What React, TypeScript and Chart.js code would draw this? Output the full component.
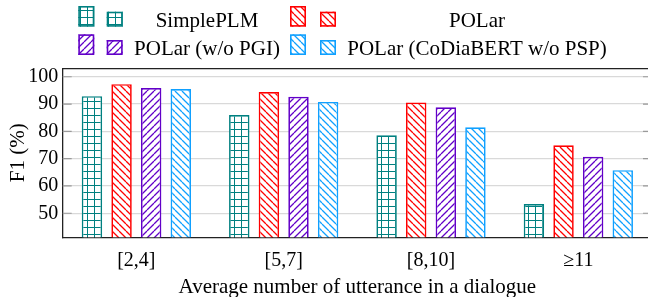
import React, { useEffect, useRef } from 'react';
import { Chart, registerables } from 'chart.js';

Chart.register(...registerables);

// ---- data ----
const categories = ['[2,4]', '[5,7]', '[8,10]', '≥11'];
const seriesNames = ['SimplePLM', 'POLar', 'POLar (w/o PGI)', 'POLar (CoDiaBERT w/o PSP)'];
const simplePLM = [92.9, 86.0, 78.6, 53.4];
const polar = [97.3, 94.4, 90.6, 74.9];
const polarNoPGI = [95.9, 92.7, 88.8, 70.7];
const polarCoDia = [95.5, 90.8, 81.5, 65.8];
const yTicks = [50, 60, 70, 80, 90, 100];
const yMin = 41.2;
const yMax = 103.1;
const xTitle = 'Average number of utterance in a dialogue';
const yTitle = 'F1 (%)';

// ---- styles ----
const colors = ['#008080', '#ff0000', '#6200c8', '#0fa0ff'];
const patterns = ['grid', 'nw', 'ne', 'nw'];
const FONT = '"Liberation Serif", "Times New Roman", serif';

function makePattern(kind: string, color: string) {
  const s = 7;
  const c = document.createElement('canvas');
  c.width = s;
  c.height = s;
  const g = c.getContext('2d')!;
  g.fillStyle = '#ffffff';
  g.fillRect(0, 0, s, s);
  g.strokeStyle = color;
  g.lineWidth = kind === 'grid' ? 1 : 1.3;
  g.beginPath();
  if (kind === 'grid') {
    g.moveTo(0, 3.5);
    g.lineTo(s, 3.5);
    g.moveTo(3.5, 0);
    g.lineTo(3.5, s);
  } else if (kind === 'nw') {
    for (const k of [-1, 0, 1]) {
      g.moveTo(k * s, 0);
      g.lineTo(k * s + s, s);
    }
  } else {
    for (const k of [-1, 0, 1]) {
      g.moveTo(k * s, s);
      g.lineTo(k * s + s, 0);
    }
  }
  g.stroke();
  return g.createPattern(c, 'repeat')!;
}

export default function App() {
  const ref = useRef<HTMLCanvasElement>(null);

  useEffect(() => {
    const fills = colors.map((c, i) => makePattern(patterns[i], c));
    const seriesValues = [simplePLM, polar, polarNoPGI, polarCoDia];

    const legendPlugin = {
      id: 'customLegend',
      afterDraw(chart: any) {
        const ctx = chart.ctx as CanvasRenderingContext2D;
        const colIcon1 = [78.3, 290];
        const colIcon2 = [106.7, 320];
        const colText = [207, 477];
        const baselines = [26.7, 55];
        ctx.save();
        seriesNames.forEach((name, i) => {
          const col = i % 2;
          const row = Math.floor(i / 2);
          const b = baselines[row];
          const drawIcon = (x: number, y: number, w: number, h: number) => {
            ctx.fillStyle = fills[i];
            ctx.fillRect(x, y, w, h);
            ctx.strokeStyle = colors[i];
            ctx.lineWidth = 1.6;
            ctx.strokeRect(x + 0.8, y + 0.8, w - 1.6, h - 1.6);
          };
          drawIcon(colIcon1[col], b - 20.7, 16, 20.7);
          drawIcon(colIcon2[col], b - 15, 16, 15);
          ctx.fillStyle = '#000';
          ctx.font = `21px ${FONT}`;
          ctx.textAlign = 'center';
          ctx.textBaseline = 'alphabetic';
          ctx.fillText(name, colText[col], b);
        });
        ctx.restore();
      },
    };

    const innerTicks = {
      id: 'innerTicks',
      afterDatasetsDraw(chart: any) {
        const { ctx, chartArea } = chart;
        const y = chart.scales.y;
        ctx.save();
        ctx.strokeStyle = '#9a9a9a';
        ctx.lineWidth = 1.2;
        ctx.beginPath();
        yTicks.forEach((v) => {
          const py = y.getPixelForValue(v);
          ctx.moveTo(chartArea.left, py);
          ctx.lineTo(chartArea.left + 9, py);
          ctx.moveTo(chartArea.right - 9, py);
          ctx.lineTo(chartArea.right, py);
        });
        ctx.stroke();
        ctx.restore();
      },
    };

    const chart = new Chart(ref.current!, {
      type: 'bar',
      data: {
        labels: categories,
        datasets: seriesNames.map((name, i) => ({
          label: name,
          data: seriesValues[i],
          backgroundColor: fills[i],
          borderColor: colors[i],
          borderWidth: 1.7,
          borderSkipped: false,
          categoryPercentage: 0.804,
          barPercentage: 0.69,
        })),
      },
      options: {
        responsive: false,
        animation: false,
        layout: { padding: { top: 68.3, left: 0, right: 0, bottom: 0 } },
        plugins: {
          legend: { display: false },
          tooltip: { enabled: false },
        },
        scales: {
          x: {
            type: 'category',
            offset: true,
            grid: { display: false, drawTicks: false },
            border: { display: true, color: '#222', width: 1.3 },
            ticks: {
              font: { family: FONT, size: 20 },
              color: '#000',
              padding: 11.4,
              maxRotation: 0,
              autoSkip: false,
            },
            title: {
              display: true,
              text: xTitle,
              font: { family: FONT, size: 21 },
              color: '#000',
              padding: { top: 0, bottom: 0 },
            },
            afterFit: (s: any) => {
              s.height = 300 - 237.3;
            },
          },
          xTop: {
            type: 'category',
            position: 'top',
            offset: true,
            grid: { display: false, drawTicks: false },
            border: { display: true, color: '#222', width: 1.3 },
            ticks: { display: false },
            afterFit: (s: any) => {
              s.height = 0;
            },
          },
          y: {
            type: 'linear',
            min: yMin,
            max: yMax,
            afterBuildTicks: (a: any) => {
              a.ticks = yTicks.map((v) => ({ value: v }));
            },
            grid: { color: '#d9d9d9', lineWidth: 1.2, drawTicks: false },
            border: { display: true, color: '#222', width: 1.3 },
            ticks: {
              font: { family: FONT, size: 20 },
              color: '#000',
              padding: 4.4,
            },
            title: {
              display: true,
              text: yTitle,
              font: { family: FONT, size: 21 },
              color: '#000',
              padding: { top: 6, bottom: 0 },
            },
            afterFit: (s: any) => {
              s.width = 62.7;
            },
          },
        },
      } as any,
      plugins: [legendPlugin, innerTicks],
    });
    return () => chart.destroy();
  }, []);

  return (
    <div style={{ position: 'fixed', left: 0, top: 0, width: 652, height: 300 }}>
      <canvas ref={ref} width={652} height={300} style={{ display: 'block' }} />
    </div>
  );
}
